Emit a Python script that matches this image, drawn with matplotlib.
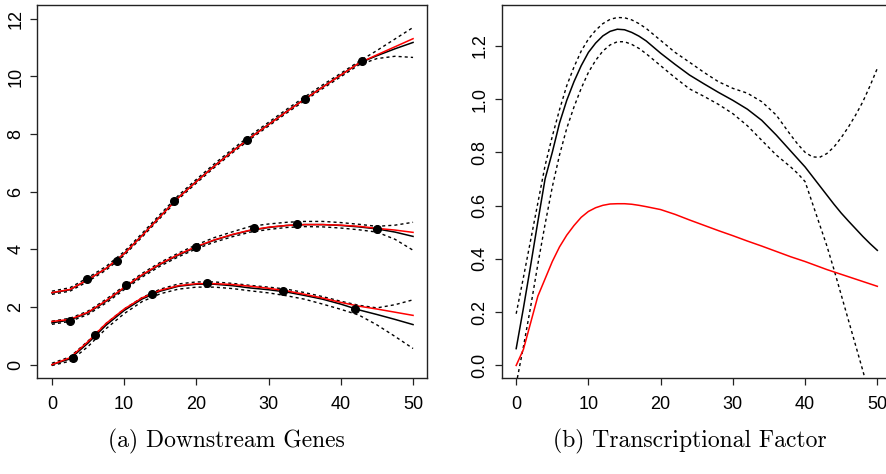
import matplotlib
matplotlib.use('Agg')
import matplotlib.pyplot as plt

# time grid shared by the downstream gene curves
t = [0, 2.5, 5, 7.5, 10, 12.5, 15, 17.5, 20, 22.5, 25,
     27.5, 30, 32.5, 35, 37.5, 40, 42.5, 45, 47.5, 50]

# gene 1 (top)
gene1_fit = [2.49, 2.60, 2.95, 3.34, 3.85, 4.49, 5.15, 5.80, 6.36, 6.90, 7.41,
             7.89, 8.34, 8.79, 9.22, 9.64, 10.05, 10.46, 10.72, 10.96, 11.18]
gene1_true = [2.50, 2.61, 2.95, 3.34, 3.85, 4.48, 5.14, 5.79, 6.35, 6.89, 7.40,
              7.88, 8.33, 8.78, 9.21, 9.63, 10.05, 10.46, 10.75, 11.03, 11.31]
gene1_hi = [2.55, 2.67, 3.02, 3.41, 3.92, 4.56, 5.22, 5.87, 6.43, 6.97, 7.48,
            7.96, 8.41, 8.86, 9.29, 9.71, 10.11, 10.52, 10.90, 11.30, 11.70]
gene1_lo = [2.44, 2.55, 2.89, 3.28, 3.79, 4.43, 5.09, 5.74, 6.30, 6.84, 7.35,
            7.83, 8.28, 8.73, 9.16, 9.58, 9.99, 10.40, 10.62, 10.70, 10.66]
gene1_obs_t = [4.9, 9.0, 16.9, 27.0, 35.0, 43.0]
gene1_obs = [2.97, 3.61, 5.69, 7.79, 9.23, 10.54]

# gene 2 (middle)
gene2_fit = [1.45, 1.55, 1.80, 2.20, 2.66, 3.10, 3.48, 3.80, 4.08, 4.32, 4.51,
             4.66, 4.76, 4.83, 4.86, 4.86, 4.83, 4.78, 4.71, 4.60, 4.45]
gene2_true = [1.50, 1.57, 1.82, 2.22, 2.68, 3.12, 3.50, 3.82, 4.10, 4.33, 4.52,
              4.67, 4.77, 4.83, 4.86, 4.86, 4.84, 4.80, 4.73, 4.67, 4.59]
gene2_hi = [1.51, 1.61, 1.86, 2.27, 2.73, 3.17, 3.55, 3.87, 4.16, 4.41, 4.61,
            4.80, 4.88, 4.94, 4.97, 4.97, 4.93, 4.87, 4.80, 4.84, 4.94]
gene2_lo = [1.40, 1.50, 1.74, 2.14, 2.60, 3.04, 3.42, 3.74, 4.02, 4.25, 4.44,
            4.60, 4.69, 4.76, 4.79, 4.78, 4.74, 4.68, 4.60, 4.35, 3.97]
gene2_obs_t = [2.45, 10.25, 19.9, 28.0, 34.0, 45.0]
gene2_obs = [1.53, 2.75, 4.08, 4.74, 4.87, 4.72]

# gene 3 (bottom)
gene3_fit = [0.00, 0.20, 0.75, 1.37, 1.88, 2.28, 2.55, 2.72, 2.79, 2.79, 2.74,
             2.66, 2.60, 2.52, 2.40, 2.27, 2.10, 1.90, 1.74, 1.57, 1.39]
gene3_true = [0.00, 0.24, 0.80, 1.43, 1.93, 2.32, 2.58, 2.74, 2.81, 2.81, 2.78,
              2.72, 2.65, 2.56, 2.44, 2.31, 2.16, 2.03, 1.93, 1.82, 1.71]
gene3_hi = [0.05, 0.27, 0.82, 1.43, 1.93, 2.33, 2.62, 2.80, 2.87, 2.87, 2.82,
            2.75, 2.69, 2.62, 2.50, 2.36, 2.20, 2.06, 1.97, 2.08, 2.25]
gene3_lo = [-0.03, 0.12, 0.63, 1.25, 1.77, 2.19, 2.46, 2.62, 2.69, 2.69, 2.64,
            2.56, 2.49, 2.39, 2.27, 2.10, 1.92, 1.72, 1.38, 0.98, 0.56]
gene3_obs_t = [2.95, 6.0, 13.9, 21.5, 32.0, 42.0]
gene3_obs = [0.24, 1.03, 2.45, 2.82, 2.54, 1.92]

# transcriptional factor (finer grid where the curves bend)
tf_t = [0, 1, 2, 3, 4, 5, 6, 7, 8, 9, 10, 11, 12, 13, 14, 15, 16, 17, 18,
        20, 22, 24, 26, 28, 30, 32, 34, 36, 38,
        39, 40, 41, 42, 43, 44, 45, 46, 47, 48, 49, 50]
tf_fit = [0.063, 0.215, 0.375, 0.54, 0.70, 0.80, 0.91, 0.995, 1.065, 1.125, 1.175,
          1.21, 1.237, 1.254, 1.262, 1.26, 1.25, 1.236, 1.218,
          1.172, 1.13, 1.09, 1.057, 1.025, 0.995, 0.962, 0.92, 0.865, 0.805,
          0.775, 0.745, 0.71, 0.675, 0.64, 0.605, 0.572, 0.542, 0.513, 0.484, 0.457, 0.432]
tf_hi = [0.194, 0.33, 0.47, 0.61, 0.75, 0.86, 0.96, 1.05, 1.12, 1.18, 1.225,
         1.258, 1.283, 1.299, 1.306, 1.305, 1.297, 1.283, 1.265,
         1.22, 1.175, 1.138, 1.10, 1.065, 1.04, 1.022, 0.99, 0.94, 0.865,
         0.83, 0.80, 0.783, 0.781, 0.795, 0.82, 0.855, 0.895, 0.94, 0.99, 1.05, 1.115]
tf_lo = [-0.07, 0.07, 0.22, 0.38, 0.53, 0.67, 0.79, 0.89, 0.97, 1.04, 1.10,
         1.145, 1.18, 1.203, 1.215, 1.215, 1.205, 1.19, 1.17,
         1.125, 1.08, 1.038, 1.01, 0.98, 0.945, 0.90, 0.845, 0.79, 0.745,
         0.72, 0.69, 0.61, 0.53, 0.45, 0.36, 0.265, 0.17, 0.075, -0.02, -0.12, -0.22]
tf_true = [0.0, 0.06, 0.16, 0.26, 0.325, 0.39, 0.445, 0.489, 0.525, 0.556, 0.578,
           0.592, 0.601, 0.606, 0.607, 0.607, 0.605, 0.601, 0.596,
           0.585, 0.567, 0.546, 0.526, 0.506, 0.487, 0.467, 0.448, 0.428, 0.408,
           0.399, 0.39, 0.38, 0.37, 0.36, 0.351, 0.342, 0.333, 0.324, 0.315, 0.306, 0.297]

x_ticks = [0, 10, 20, 30, 40, 50]
left_yticks = [0, 2, 4, 6, 8, 10, 12]
right_yticks = [0.0, 0.2, 0.4, 0.6, 0.8, 1.0, 1.2]

dotted = (0, (2.2, 2.2))

fig = plt.figure(figsize=(8.86, 4.74), dpi=100)
ax1 = fig.add_axes([0.0423, 0.2015, 0.4402, 0.7880])
ax2 = fig.add_axes([0.5663, 0.2015, 0.4402, 0.7880])

genes = [
    (gene1_fit, gene1_true, gene1_hi, gene1_lo, gene1_obs_t, gene1_obs),
    (gene2_fit, gene2_true, gene2_hi, gene2_lo, gene2_obs_t, gene2_obs),
    (gene3_fit, gene3_true, gene3_hi, gene3_lo, gene3_obs_t, gene3_obs),
]
for fit, true, hi, lo, obs_t, obs in genes:
    ax1.plot(t, fit, color='black', lw=1.1)
    ax1.plot(t, hi, color='black', lw=1.0, linestyle=dotted)
    ax1.plot(t, lo, color='black', lw=1.0, linestyle=dotted)
    ax1.plot(t, true, color='red', lw=1.1)
    ax1.plot(obs_t, obs, 'o', color='black', markersize=5.5)

ax1.set_xlim(-2, 52)
ax1.set_ylim(-0.48, 12.48)
ax1.set_xticks(x_ticks)
ax1.set_yticks(left_yticks)

ax2.plot(tf_t, tf_fit, color='black', lw=1.1)
ax2.plot(tf_t, tf_hi, color='black', lw=1.0, linestyle=dotted)
ax2.plot(tf_t, tf_lo, color='black', lw=1.0, linestyle=dotted)
ax2.plot(tf_t, tf_true, color='red', lw=1.1)
ax2.set_xlim(-2, 52)
ax2.set_ylim(-0.049, 1.353)
ax2.set_xticks(x_ticks)
ax2.set_yticks(right_yticks)
ax2.set_yticklabels(['%.1f' % v for v in right_yticks])

for ax in (ax1, ax2):
    for sp in ax.spines.values():
        sp.set_linewidth(1.0)
        sp.set_color('#222222')
    ax.tick_params(length=5, width=0.9, color='#222222', labelsize=13)
    ax.tick_params(axis='x', pad=7.5)
    ax.tick_params(axis='y', labelrotation=90, pad=4.5)
    for lab in ax.get_xticklabels():
        lab.set_fontfamily(['Liberation Sans Narrow', 'Liberation Sans'])
    for lab in ax.get_yticklabels():
        lab.set_fontfamily(['Liberation Sans'])
        lab.set_va('center')

fig.text(0.255, 0.069, '(a) Downstream Genes', ha='center', va='center',
         fontsize=17, family=['cmr10', 'DejaVu Serif'])
fig.text(0.779, 0.069, '(b) Transcriptional Factor', ha='center', va='center',
         fontsize=17, family=['cmr10', 'DejaVu Serif'])

fig.savefig('out.png', dpi=100)
